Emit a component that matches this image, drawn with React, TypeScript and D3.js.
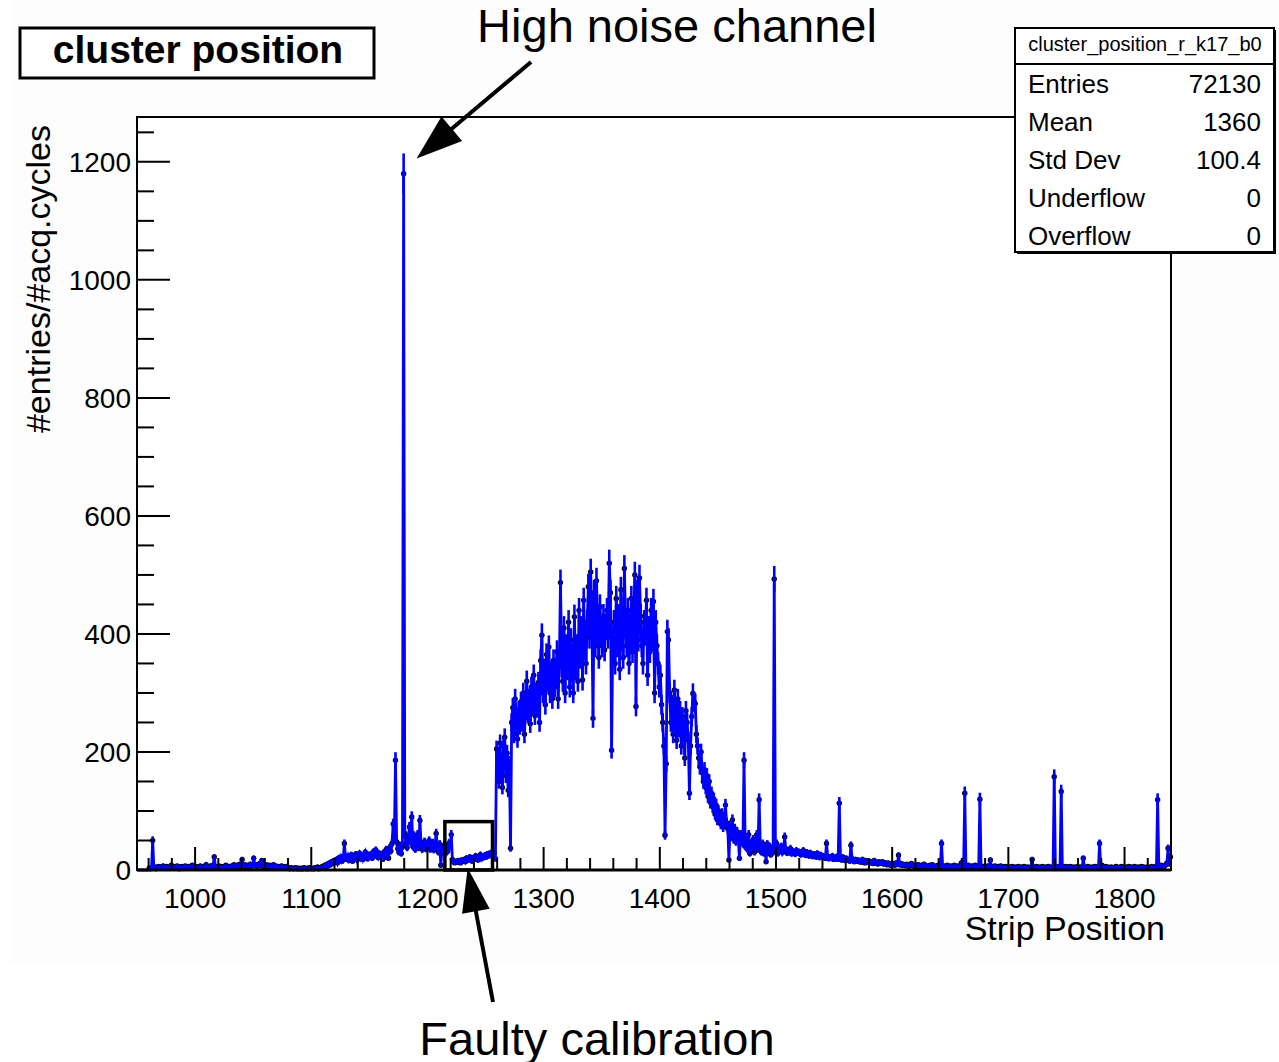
import React from "react";
import * as d3 from "d3";

// ---- data (strip -> entries / acq. cycles) ----
const lowStart = 950;
const lowCounts = [
  0, 0, 0, 0, 0, 0, 0, 0, 0, 0,
  3, 2, 4, 50, 3, 5, 2, 4, 6, 3,
  5, 4, 7, 3, 5, 6, 4, 3, 5, 8,
  4, 6, 3, 5, 7, 4, 2, 5, 6, 3,
  4, 7, 5, 3, 6, 4, 5, 8, 3, 4,
  6, 3, 5, 4, 7, 5, 3, 6, 4, 9,
  5, 4, 6, 7, 5, 8, 22, 6, 4, 5,
  7, 4, 6, 5, 3, 6, 8, 5, 4, 6,
  5, 7, 4, 9, 6, 5, 8, 7, 10, 6,
  18, 7, 9, 6, 8, 5, 7, 10, 6, 8,
  20, 7, 9, 6, 8, 11, 7, 16, 6, 5,
  7, 9, 5, 6, 8, 4, 6, 9, 5, 7,
  4, 6, 5, 3, 7, 4, 5, 3, 6, 4,
  3, 2, 4, 3, 2, 3, 4, 2, 3, 2,
  3, 2, 2, 4, 3, 2, 3, 2, 4, 3,
  2, 3, 2, 4, 3, 5, 2, 4, 3, 6,
];

const riseStart = 1110;
const riseCounts = [
  5, 8, 6, 10, 7, 12, 9, 14, 11, 16,
  14, 18, 12, 20, 16, 22, 15, 19, 45, 21,
  18, 24, 16, 20, 26, 15, 22, 19, 27, 17,
  23, 28, 20, 25, 18, 24, 30, 21, 19, 26,
  22, 27, 20, 31, 24, 34, 25, 21, 28, 23,
  25, 18, 30, 22, 35, 28, 20, 38, 32, 45,
  78, 55, 186, 48, 36, 30, 42, 28, 40, 1180,
  62, 45, 38, 55, 73, 48, 90, 40, 58, 35,
  42, 60, 38, 84, 45, 35, 40, 48, 36, 44,
  38, 50, 35, 42, 46, 34, 40, 62, 38, 30,
  44, 8, 36, 30, 42, 28, 38, 32, 45, 40,
  60, 18, 14, 12, 15, 13, 16, 14, 12, 17,
  15, 18, 14, 20, 16, 19, 22, 17, 15, 21,
  18, 24, 20, 17, 22, 26, 19, 23, 21, 25,
];

const peakStart = 1250;
const peakCounts = [
  22, 27, 24, 28, 25, 30, 27, 29, 19, 205,
  190, 150, 215, 170, 140, 210, 225, 160, 198, 135,
  180, 37, 250, 275, 230, 290, 260, 222, 270, 245,
  285, 250, 300, 230, 270, 320, 265, 290, 248, 310,
  280, 330, 262, 300, 275, 318, 250, 355, 398, 300,
  340, 280, 365, 320, 378, 300, 335, 290, 355, 310,
  330, 370, 290, 345, 487, 360, 320, 410, 300, 380,
  340, 420, 310, 390, 350, 300, 429, 340, 380, 320,
  440, 360, 410, 322, 457, 380, 350, 420, 480, 395,
  505, 430, 257, 470, 380, 490, 420, 360, 446, 400,
  380, 430, 373, 410, 440, 395, 520, 470, 203, 390,
  420, 350, 460, 380, 430, 340, 475, 400, 360, 511,
  420, 380, 440, 350, 400, 460, 370, 420, 500, 277,
  470, 390, 495, 430, 380, 350, 420, 400, 457, 330,
  410, 370, 440, 390, 455, 300, 420, 380, 350, 310,
  330, 280, 250, 210, 59, 180, 404, 390, 300, 250,
  280, 230, 305, 260, 220, 290, 240, 270, 210, 260,
  240, 190, 270, 250, 220, 130, 210, 260, 299, 285,
  282, 230, 210, 190, 175, 200, 165, 150, 170, 140,
  160, 125, 150, 115, 130, 107, 120, 95, 110, 85,
  100, 90, 78, 95, 73, 85, 110, 80, 70, 17,
];

const tailStart = 1460;
const tailCounts = [
  75, 60, 85, 52, 70, 48, 65, 55, 20, 60,
  50, 45, 186, 40, 55, 35, 60, 28, 45, 38,
  52, 30, 42, 60, 35, 119, 40, 30, 45, 28,
  38, 14, 44, 32, 40, 26, 35, 30, 493, 42,
  45, 28, 38, 33, 40, 30, 36, 56, 32, 29,
  34, 30, 36, 28, 32, 30, 27, 33, 29, 31,
  30, 26, 29, 33, 27, 25, 30, 28, 24, 29,
  26, 23, 27, 25, 22, 28, 24, 21, 26, 23,
  24, 22, 20, 45, 23, 19, 22, 20, 24, 18,
  21, 19, 23, 18, 113, 20, 17, 22, 19, 16,
  20, 18, 17, 15, 42, 19, 16, 14, 18, 15,
  17, 14, 16, 13, 18, 15, 12, 16, 14, 13,
  15, 12, 14, 11, 16, 13, 12, 10, 14, 11,
  12, 14, 10, 13, 11, 9, 12, 10, 8, 11,
  9, 11, 8, 12, 10, 25, 9, 11, 8, 10,
  9, 7, 10, 8, 6, 9, 11, 7, 8, 6,
  8, 6, 9, 7, 5, 8, 6, 10, 7, 5,
  7, 5, 8, 6, 9, 5, 7, 4, 6, 8,
  5, 7, 45, 6, 4, 7, 5, 8, 6, 5,
  7, 5, 4, 8, 6, 5, 7, 4, 6, 12,
  5, 7, 130, 4, 6, 8, 5, 4, 7, 6,
  5, 8, 4, 6, 6, 120, 7, 4, 6, 5,
  6, 4, 7, 5, 17, 6, 4, 5, 7, 3,
  5, 6, 4, 7, 3, 5, 4, 6, 5, 4,
  3, 5, 4, 6, 3, 4, 5, 3, 6, 4,
  5, 3, 4, 6, 4, 3, 5, 4, 3, 5,
  18, 4, 5, 3, 6, 4, 3, 5, 4, 6,
  4, 3, 5, 4, 6, 3, 4, 5, 3, 158,
  4, 5, 3, 6, 4, 133, 3, 5, 4, 6,
  3, 5, 4, 6, 3, 4, 5, 3, 4, 6,
  4, 3, 5, 4, 20, 5, 3, 4, 6, 5,
  3, 4, 5, 3, 6, 4, 5, 3, 45, 6,
  8, 5, 4, 6, 3, 5, 4, 3, 5, 4,
  3, 4, 6, 5, 3, 4, 5, 6, 3, 4,
  5, 3, 4, 6, 3, 5, 4, 3, 6, 4,
  3, 5, 4, 3, 6, 4, 5, 3, 4, 5,
  4, 3, 5, 6, 4, 3, 5, 7, 119, 6,
  5, 8, 6, 4, 7, 9, 12, 37, 10, 22,
];

const xDomain = [950, 1840];
const yDomain = [0, 1276];
const xMajorTicks = [1000, 1100, 1200, 1300, 1400, 1500, 1600, 1700, 1800];
const yMajorTicks = [0, 200, 400, 600, 800, 1000, 1200];

const histTitle = "cluster position";
const xTitle = "Strip Position";
const yTitle = "#entries/#acq.cycles";
const statsTitle = "cluster_position_r_k17_b0";
const statsLabels = ["Entries", "Mean", "Std Dev", "Underflow", "Overflow"];
const statsValues = ["72130", "1360", "100.4", "0", "0"];
const noteTop = "High noise channel";
const noteBottom = "Faulty calibration";
const faultyRange = [1215, 1256];

const FONT = "'Liberation Sans', Arial, Helvetica, sans-serif";

type Pt = { s: number; v: number };

function arrowHead(x1: number, y1: number, x2: number, y2: number, len: number, half: number) {
  const dx = x2 - x1;
  const dy = y2 - y1;
  const L = Math.hypot(dx, dy);
  const ux = dx / L;
  const uy = dy / L;
  const bx = x2 - ux * len;
  const by = y2 - uy * len;
  const px = -uy;
  const py = ux;
  return `${x2},${y2} ${bx + px * half},${by + py * half} ${bx - px * half},${by - py * half}`;
}

export default function App() {
  const W = 1279;
  const H = 1062;
  const x = d3.scaleLinear().domain(xDomain).range([137, 1171]);
  const y = d3.scaleLinear().domain(yDomain).range([870, 117]);

  const pts: Pt[] = [
    ...lowCounts.map((v, i) => ({ s: lowStart + i, v })),
    ...riseCounts.map((v, i) => ({ s: riseStart + i, v })),
    ...peakCounts.map((v, i) => ({ s: peakStart + i, v })),
    ...tailCounts.map((v, i) => ({ s: tailStart + i, v })),
  ];

  const line = d3
    .line<Pt>()
    .x((d) => x(d.s + 0.5))
    .y((d) => y(d.v));

  const xMinor = d3.range(960, 1841, 20).filter((t) => t % 100 !== 0);
  const yMinor = d3.range(0, 1276, 50).filter((t) => t % 200 !== 0);

  // annotation geometry from data positions
  const noisy = pts.reduce((a, b) => (b.v > a.v ? b : a));
  const tipTopX = x(noisy.s + 0.5) + 13;
  const tipTopY = y(noisy.v + Math.sqrt(noisy.v)) + 5;
  const startTop = { x: 531, y: 62 };

  const boxX0 = x(faultyRange[0]);
  const boxX1 = x(faultyRange[1]);
  const boxY0 = y(82);
  const boxY1 = y(0);
  const tipBotX = (boxX0 + boxX1) / 2 - 1;
  const tipBotY = y(0) - 2;
  const startBot = { x: 493, y: 1002 };

  return (
    <svg
      width={W}
      height={H}
      viewBox={`0 0 ${W} ${H}`}
      style={{ position: "absolute", left: 0, top: 0, background: "#ffffff" }}
      fontFamily={FONT}
    >
      <rect x={10} y={0} width={W - 10} height={964} fill="#fdfdfd" />

      {/* frame */}
      <rect x={137} y={117} width={1034} height={753} fill="#ffffff" stroke="#000" strokeWidth={2} />

      {/* histogram: markers, then error bars and line */}
      <g>
        {pts
          .filter((d) => d.s >= 960)
          .map((d, i) => (
            <circle key={"m" + i} cx={x(d.s + 0.5)} cy={y(d.v)} r={2.7} fill="#000" />
          ))}
      </g>
      <g stroke="#0000ff" strokeWidth={2.6}>
        {pts
          .filter((d) => d.v > 0)
          .map((d, i) => (
            <line
              key={"e" + i}
              x1={x(d.s + 0.5)}
              x2={x(d.s + 0.5)}
              y1={y(d.v + Math.sqrt(d.v))}
              y2={y(Math.max(0, d.v - Math.sqrt(d.v)))}
            />
          ))}
      </g>
      <path
        d={line([{ s: xDomain[0] - 0.5, v: 0 }, ...pts]) || ""}
        fill="none"
        stroke="#0000ff"
        strokeWidth={2.8}
        strokeLinejoin="miter"
      />

      {/* axes */}
      <line x1={137} x2={1171} y1={870} y2={870} stroke="#000" strokeWidth={3} />
      <line x1={137} x2={137} y1={117} y2={870} stroke="#000" strokeWidth={2} />
      <line x1={137} x2={1171} y1={117} y2={117} stroke="#000" strokeWidth={2} />
      <line x1={1171} x2={1171} y1={117} y2={870} stroke="#000" strokeWidth={2} />
      {xMajorTicks.map((t) => (
        <g key={"xt" + t}>
          <line x1={x(t)} x2={x(t)} y1={870} y2={847} stroke="#000" strokeWidth={2} />
          <text x={x(t)} y={908} fontSize={28} textAnchor="middle" fill="#000">
            {t}
          </text>
        </g>
      ))}
      {xMinor.map((t) => (
        <line key={"xm" + t} x1={x(t)} x2={x(t)} y1={870} y2={858} stroke="#000" strokeWidth={2} />
      ))}
      {yMajorTicks.map((t) => (
        <g key={"yt" + t}>
          <line x1={137} x2={170} y1={y(t)} y2={y(t)} stroke="#000" strokeWidth={2} />
          <text x={131} y={y(t)} dy="0.36em" fontSize={28} textAnchor="end" fill="#000">
            {t}
          </text>
        </g>
      ))}
      {yMinor.map((t) => (
        <line key={"ym" + t} x1={137} x2={154} y1={y(t)} y2={y(t)} stroke="#000" strokeWidth={2} />
      ))}

      {/* axis titles */}
      <text x={1165} y={940} fontSize={34} textAnchor="end" fill="#000">
        {xTitle}
      </text>
      <text
        transform={`translate(50,125) rotate(-90)`}
        fontSize={34}
        textAnchor="end"
        fill="#000"
      >
        {yTitle}
      </text>

      {/* title box */}
      <rect x={20} y={28} width={354} height={50} fill="#ffffff" stroke="#000" strokeWidth={3} />
      <text x={198} y={63} fontSize={39} fontWeight="bold" textAnchor="middle" fill="#000">
        {histTitle}
      </text>

      {/* stats box */}
      <rect x={1017} y={30} width={259} height={224} fill="#000" />
      <rect x={1015} y={28} width={259} height={224} fill="#ffffff" stroke="#000" strokeWidth={2} />
      <line x1={1015} x2={1274} y1={64} y2={64} stroke="#000" strokeWidth={2} />
      <text x={1145} y={51} fontSize={20} textAnchor="middle" fill="#000">
        {statsTitle}
      </text>
      {statsLabels.map((lab, i) => (
        <g key={"st" + i}>
          <text x={1028} y={93 + i * 38} fontSize={26} fill="#000">
            {lab}
          </text>
          <text x={1261} y={93 + i * 38} fontSize={26} textAnchor="end" fill="#000">
            {statsValues[i]}
          </text>
        </g>
      ))}

      {/* faulty calibration box */}
      <rect
        x={boxX0}
        y={boxY0}
        width={boxX1 - boxX0}
        height={boxY1 - boxY0}
        fill="none"
        stroke="#000"
        strokeWidth={3.5}
      />

      {/* annotations */}
      <text x={677} y={42} fontSize={47} textAnchor="middle" fill="#000">
        {noteTop}
      </text>
      <line
        x1={startTop.x}
        y1={startTop.y}
        x2={tipTopX + (startTop.x - tipTopX) * 0.25}
        y2={tipTopY + (startTop.y - tipTopY) * 0.25}
        stroke="#000"
        strokeWidth={4}
      />
      <polygon points={arrowHead(startTop.x, startTop.y, tipTopX, tipTopY, 46, 16)} fill="#000" />

      <text x={597} y={1055} fontSize={47} textAnchor="middle" fill="#000">
        {noteBottom}
      </text>
      <line
        x1={startBot.x}
        y1={startBot.y}
        x2={tipBotX + (startBot.x - tipBotX) * 0.25}
        y2={tipBotY + (startBot.y - tipBotY) * 0.25}
        stroke="#000"
        strokeWidth={4}
      />
      <polygon points={arrowHead(startBot.x, startBot.y, tipBotX, tipBotY, 44, 14)} fill="#000" />
    </svg>
  );
}
